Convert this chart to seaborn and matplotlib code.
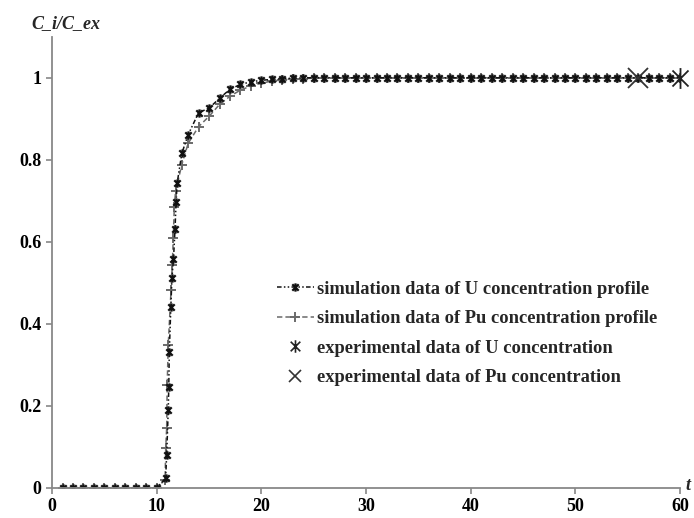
import matplotlib
matplotlib.use("Agg")
import matplotlib.pyplot as plt
import seaborn as sns
from matplotlib.lines import Line2D
from matplotlib.path import Path

# simulation data, U
t_u = [1, 2, 3, 4, 5, 6, 7, 8, 9, 10,
       10.85, 10.95, 11.1, 11.15, 11.2, 11.35, 11.45, 11.6, 11.75, 11.85, 11.95,
       12.4, 13, 14, 15, 16, 17, 18, 19, 20, 21, 22, 23, 24, 25,
       26, 27, 28, 29, 30, 31, 32, 33, 34, 35, 36, 37, 38, 39, 40,
       41, 42, 43, 44, 45, 46, 47, 48, 49, 50, 51, 52, 53, 54, 55,
       56, 57, 58, 59, 60]
c_u = [0, 0, 0, 0, 0, 0, 0, 0, 0, 0,
       0.024, 0.08, 0.19, 0.245, 0.332, 0.442, 0.511, 0.558, 0.632, 0.698, 0.743,
       0.816, 0.861, 0.915, 0.926, 0.95, 0.972, 0.984, 0.99, 0.994, 0.996, 0.998, 0.999, 1.0, 1.0,
       1.0, 1.0, 1.0, 1.0, 1.0, 1.0, 1.0, 1.0, 1.0, 1.0, 1.0, 1.0, 1.0, 1.0, 1.0,
       1.0, 1.0, 1.0, 1.0, 1.0, 1.0, 1.0, 1.0, 1.0, 1.0, 1.0, 1.0, 1.0, 1.0, 1.0,
       1.0, 1.0, 1.0, 1.0, 1.0]

# simulation data, Pu
t_pu = [1, 2, 3, 4, 5, 6, 7, 8, 9, 10,
        10.8, 10.86, 10.95, 11.0, 11.1, 11.37, 11.49, 11.58, 11.68, 11.8,
        12.39, 13, 14, 15, 16, 17, 18, 19, 20, 21, 22, 23, 24, 25,
        26, 27, 28, 29, 30, 31, 32, 33, 34, 35, 36, 37, 38, 39, 40,
        41, 42, 43, 44, 45, 46, 47, 48, 49, 50, 51, 52, 53, 54, 55,
        56, 57, 58, 59, 60]
c_pu = [0, 0, 0, 0, 0, 0, 0, 0, 0, 0,
        0.02, 0.098, 0.146, 0.251, 0.349, 0.483, 0.544, 0.609, 0.686, 0.723,
        0.788, 0.84, 0.881, 0.906, 0.935, 0.955, 0.97, 0.98, 0.987, 0.992, 0.995, 0.997, 0.998, 0.999,
        1.0, 1.0, 1.0, 1.0, 1.0, 1.0, 1.0, 1.0, 1.0, 1.0, 1.0, 1.0, 1.0, 1.0, 1.0,
        1.0, 1.0, 1.0, 1.0, 1.0, 1.0, 1.0, 1.0, 1.0, 1.0, 1.0, 1.0, 1.0, 1.0, 1.0,
        1.0, 1.0, 1.0, 1.0, 1.0]

# experimental points
t_exp_u = [60]
c_exp_u = [1.0]
t_exp_pu = [56]
c_exp_pu = [1.0]

labels = ["simulation data of U concentration profile",
          "simulation data of Pu concentration profile",
          "experimental data of U concentration",
          "experimental data of Pu concentration"]

x_ticks = [0, 10, 20, 30, 40, 50, 60]
y_ticks = [0, 0.2, 0.4, 0.6, 0.8, 1]

sns.set_style("ticks")
plt.rcParams["font.family"] = ["Liberation Serif", "DejaVu Serif"]
plt.rcParams["font.weight"] = "bold"

# excel-like "star" marker: an x with a vertical bar through it
star = Path([(-1, -1), (1, 1), (-1, 1), (1, -1), (0, -1.3), (0, 1.3)],
            [Path.MOVETO, Path.LINETO, Path.MOVETO, Path.LINETO, Path.MOVETO, Path.LINETO])
u_dash = (0, (3, 1.5, 1, 1.5, 1, 1.5))
pu_dash = (0, (3.5, 2))
u_col = "#111111"
pu_col = "#6a6a6a"

fig = plt.figure(figsize=(6.94, 5.18), dpi=100)
ax = fig.add_axes([0.075, 0.058, 0.905, 0.871])

# seaborn paints marker edges white by default, so set them explicitly
sns.lineplot(x=t_pu, y=c_pu, ax=ax, color=pu_col, linestyle=pu_dash, linewidth=1.1,
             marker="+", markersize=7, markeredgewidth=1.4, markeredgecolor=pu_col)
sns.lineplot(x=t_u, y=c_u, ax=ax, color=u_col, linestyle=u_dash, linewidth=1.1,
             marker=star, markersize=6, markeredgewidth=1.6, markeredgecolor=u_col,
             markerfacecolor="none")
sns.lineplot(x=t_exp_pu, y=c_exp_pu, ax=ax, color="#333333", linestyle="none",
             marker="x", markersize=14, markeredgewidth=1.3, markeredgecolor="#333333",
             clip_on=False)
sns.lineplot(x=t_exp_u, y=c_exp_u, ax=ax, color="#222222", linestyle="none",
             marker=star, markersize=15, markeredgewidth=1.3, markeredgecolor="#222222",
             markerfacecolor="none", clip_on=False)

ax.set_xlim(0, 60)
ax.set_ylim(0, 1.1)
ax.set_xticks(x_ticks)
ax.set_yticks(y_ticks)
ax.set_yticklabels(["%g" % v for v in y_ticks])
ax.tick_params(labelsize=13, colors="#888888", labelcolor="black", length=4, width=1.2)
for lab in ax.get_xticklabels() + ax.get_yticklabels():
    lab.set_fontweight("bold")
sns.despine(ax=ax)
for s in ["left", "bottom"]:
    ax.spines[s].set_color("#888888")
    ax.spines[s].set_linewidth(1.3)

ax.set_xlabel("")
ax.set_ylabel("")
fig.text(0.095, 0.955, "C_i/C_ex", fontsize=13, fontweight="bold", style="italic",
         ha="center", va="center")
fig.text(0.992, 0.062, "t", fontsize=13, fontweight="bold", style="italic",
         ha="center", va="center")

handles = [
    Line2D([], [], color=u_col, linestyle=u_dash, linewidth=1.1, marker=star,
           markersize=6, markeredgewidth=1.6, markerfacecolor="none"),
    Line2D([], [], color=pu_col, linestyle=pu_dash, linewidth=1.1, marker="+",
           markersize=7, markeredgewidth=1.4),
    Line2D([], [], color="#222222", linestyle="none", marker=star, markersize=9,
           markeredgewidth=1.2, markerfacecolor="none"),
    Line2D([], [], color="#333333", linestyle="none", marker="x", markersize=8,
           markeredgewidth=1.2),
]
leg = ax.legend(handles, labels, loc="upper left", bbox_to_anchor=(0.375, 0.49),
                bbox_transform=fig.transFigure, frameon=False,
                handlelength=2.0, handletextpad=0.15, labelspacing=0.68,
                prop={"weight": "bold", "size": 13.3})

fig.savefig("out.png", dpi=100)
